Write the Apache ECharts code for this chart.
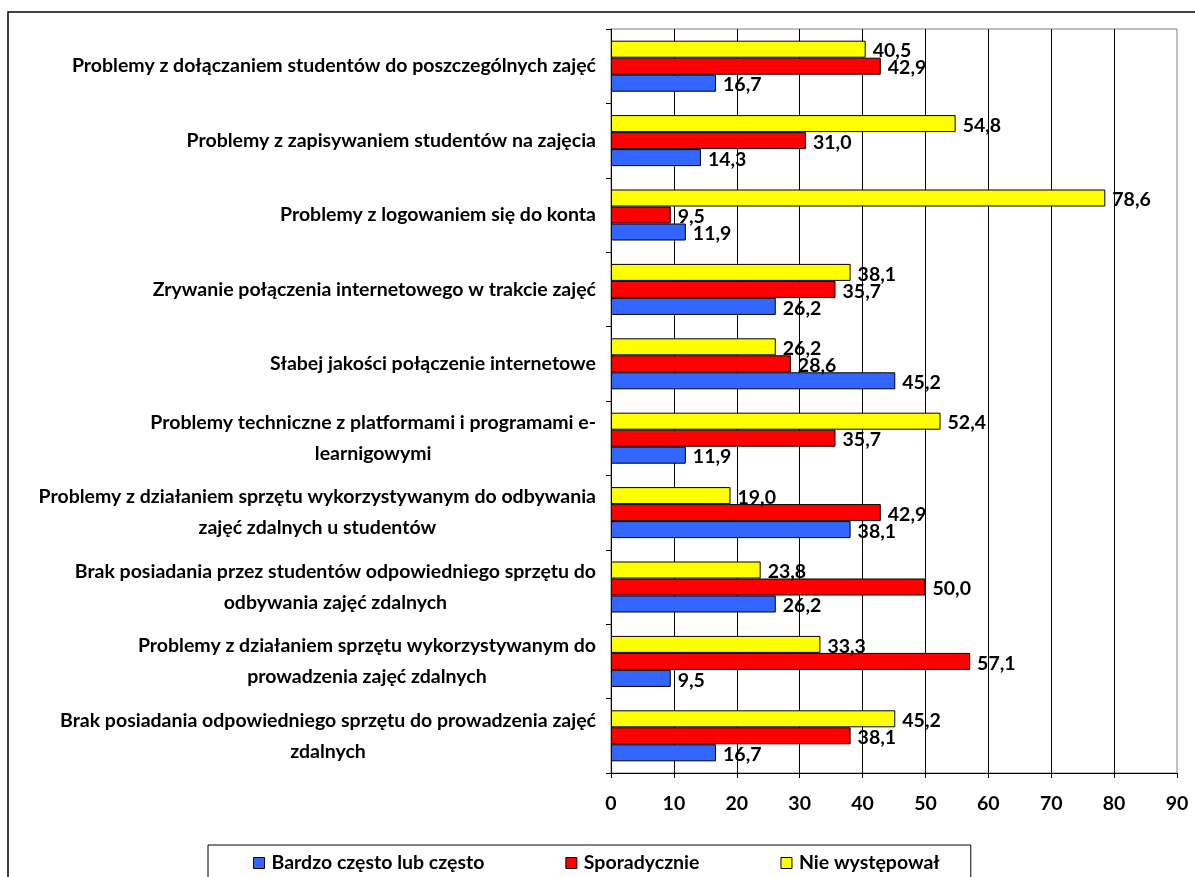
<!DOCTYPE html>
<html>
<head>
<meta charset="utf-8">
<script src="https://cdn.jsdelivr.net/npm/echarts@6/dist/echarts.min.js"></script>
<style>
html,body{margin:0;padding:0;background:#fff;}
#chart{width:1195px;height:877px;}
</style>
</head>
<body>
<div id="chart"></div>
<script>
const categories = [
  "Problemy z dołączaniem studentów do poszczególnych zajęć",
  "Problemy z zapisywaniem studentów na zajęcia",
  "Problemy z logowaniem się do konta",
  "Zrywanie połączenia internetowego w trakcie zajęć",
  "Słabej jakości połączenie internetowe",
  "Problemy techniczne z platformami i programami e-\nlearnigowymi",
  "Problemy z działaniem sprzętu wykorzystywanym do odbywania\nzajęć zdalnych u studentów",
  "Brak posiadania przez studentów odpowiedniego sprzętu do\nodbywania zajęć zdalnych",
  "Problemy z działaniem sprzętu wykorzystywanym do\nprowadzenia zajęć zdalnych",
  "Brak posiadania odpowiedniego sprzętu do prowadzenia zajęć\nzdalnych"
];
const seriesNames = ["Bardzo często lub często", "Sporadycznie", "Nie występował"];
const bardzoCzesto = [16.7, 14.3, 11.9, 26.2, 45.2, 11.9, 38.1, 26.2, 9.5, 16.7];
const sporadycznie = [42.9, 31.0, 9.5, 35.7, 28.6, 35.7, 42.9, 50.0, 57.1, 38.1];
const nieWystepowal = [40.5, 54.8, 78.6, 38.1, 26.2, 52.4, 19.0, 23.8, 33.3, 45.2];
const xTicks = [0, 10, 20, 30, 40, 50, 60, 70, 80, 90];

const FONT = 'Lato';
const FS = 19.5;
const colors = ['#3366FF', '#FF0000', '#FFFF00'];
const dataSets = [bardzoCzesto, sporadycznie, nieWystepowal];

const chart = echarts.init(document.getElementById('chart'), null, {renderer: 'canvas'});

function mkSeries(i) {
  return {
    name: seriesNames[i],
    type: 'bar',
    data: dataSets[i],
    barWidth: 17,
    barGap: '0%',
    itemStyle: { color: colors[i], borderColor: '#000', borderWidth: 1 },
    label: {
      show: true,
      position: 'right',
      distance: 7,
      offset: [0, 2],
      color: '#000',
      fontFamily: FONT,
      fontWeight: 'bold',
      fontSize: FS,
      formatter: p => p.value.toFixed(1).replace('.', ',')
    },
    emphasis: { disabled: true },
    animation: false
  };
}

chart.setOption({
  animation: false,
  textStyle: { fontFamily: FONT },
  graphic: [{
    type: 'rect',
    shape: { x: 8, y: 12, width: 1200, height: 900 },
    style: { fill: 'none', stroke: '#000', lineWidth: 1.5 },
    silent: true, z: -10
  }],
  grid: {
    left: 611, right: 18, top: 29, bottom: 104,
    show: true, borderColor: '#808080', borderWidth: 1, backgroundColor: 'transparent'
  },
  legend: {
    data: seriesNames,
    left: 208, top: 845,
    orient: 'horizontal',
    padding: [8, 31, 12, 45],
    itemGap: 81,
    itemWidth: 11, itemHeight: 11,
    borderColor: '#000', borderWidth: 1,
    icon: 'rect',
    textStyle: { fontFamily: FONT, fontWeight: 'bold', fontSize: FS, color: '#000', padding: [0,0,0,2] },
    itemStyle: { borderColor: '#000', borderWidth: 1 }
  },
  xAxis: {
    type: 'value',
    min: 0, max: 90, interval: 10,
    axisLine: { show: true, lineStyle: { color: '#000', width: 1 } },
    axisTick: { show: true, length: 5, lineStyle: { color: '#000' } },
    splitLine: { show: true, showMaxLine: false, lineStyle: { color: '#000', width: 1 } },
    axisLabel: {
      margin: 21, color: '#000', fontFamily: FONT, fontWeight: 'bold', fontSize: FS,
      formatter: v => xTicks.includes(v) ? String(v) : ''
    }
  },
  yAxis: {
    type: 'category',
    data: categories,
    inverse: true,
    axisLine: { show: true, lineStyle: { color: '#000', width: 1 } },
    axisTick: { show: true, length: 5, lineStyle: { color: '#000' } },
    splitLine: { show: false },
    axisLabel: {
      margin: 15,
      align: 'right',
      formatter: v => v.split('\n').map(s => '{c|' + s + '}').join('\n'),
      rich: {
        c: { align: 'center', fontFamily: FONT, fontWeight: 'bold', fontSize: FS, color: '#000', lineHeight: 31 }
      }
    }
  },
  series: [mkSeries(2), mkSeries(1), mkSeries(0)]
});
</script>
</body>
</html>
